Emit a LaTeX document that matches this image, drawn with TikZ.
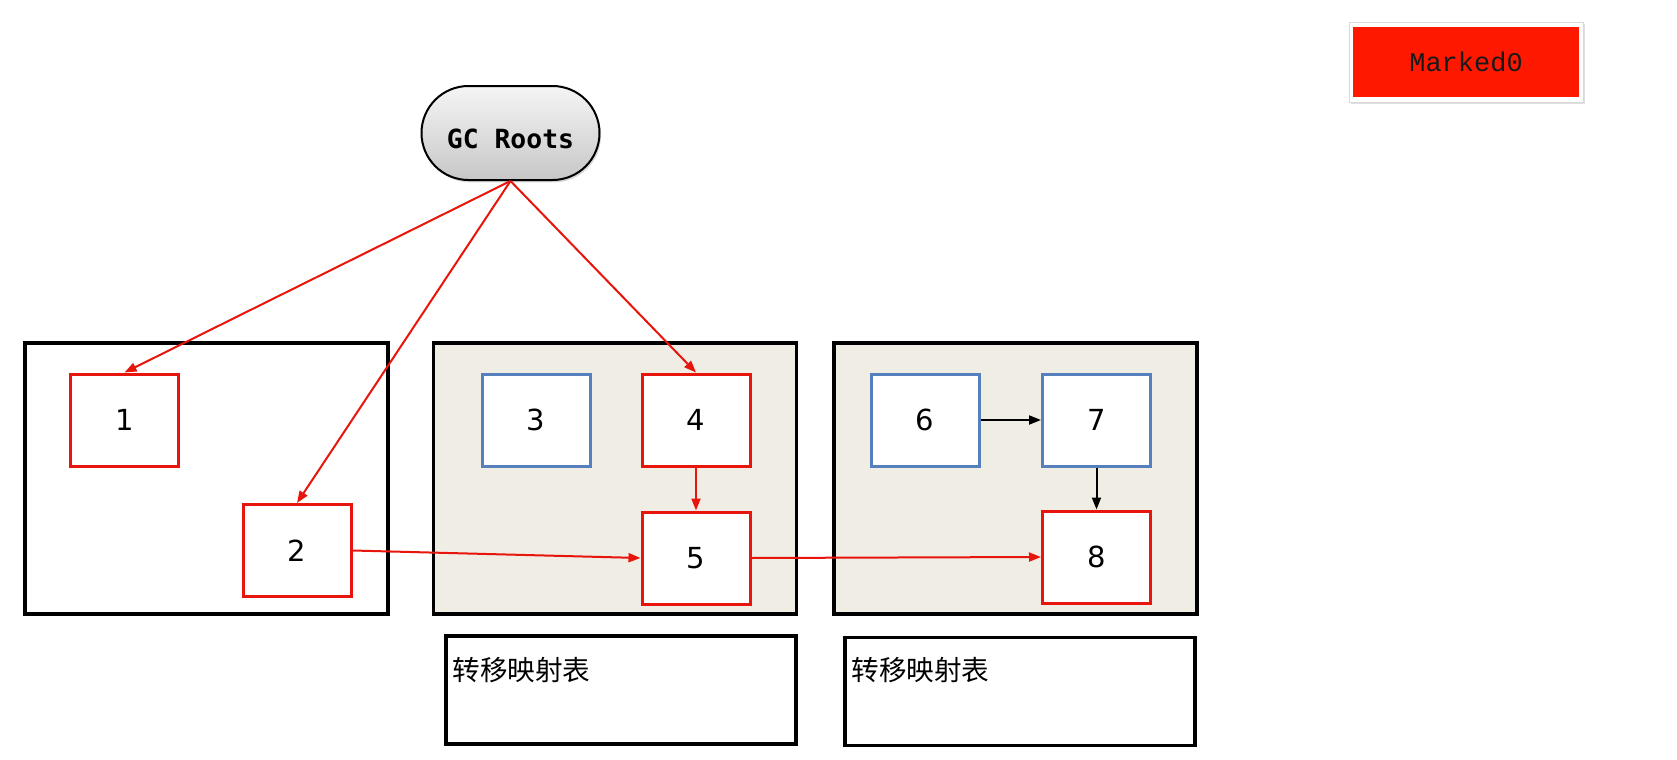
\documentclass[tikz,border=0pt]{standalone}
\usepackage{fontspec}
\setmainfont{DejaVu Sans}
\newfontfamily\cjk{Noto Sans CJK SC}
\newfontfamily\gcfont{DejaVu Sans Mono}
\newfontfamily\markfont{Liberation Mono}
\usetikzlibrary{arrows.meta,shadows,shapes.misc}
\definecolor{objred}{HTML}{E8150C}
\definecolor{objblue}{HTML}{5580BC}
\definecolor{regionbg}{HTML}{F0EDE4}
\definecolor{markred}{HTML}{FF1800}
\tikzset{
  region/.style={draw=black, line width=1.8pt, minimum width=181.5pt, minimum height=135.5pt, inner sep=0pt},
  obj/.style={draw, fill=white, line width=1.5pt, minimum width=54pt, minimum height=46pt, inner sep=0pt, font=\fontsize{14.5}{16}\selectfont},
  live/.style={obj, draw=objred},
  dead/.style={obj, draw=objblue},
  table/.style={draw=black, line width=1.6pt, minimum width=175pt, minimum height=54pt, inner sep=0pt},
  redarrow/.style={draw=objred, line width=1pt, -{Triangle[length=6pt,width=4.5pt]}},
  blackarrow/.style={draw=black, line width=1pt, -{Triangle[length=6pt,width=4.5pt]}},
}
\begin{document}
\begin{tikzpicture}[x=0.5pt,y=-0.5pt]
\useasboundingbox[fill=white] (0,0) rectangle (1677,760);
% marked0 legend
\node[draw=black!15, fill=white, line width=0.4pt, minimum width=117pt, minimum height=40pt, drop shadow={shadow xshift=0.8pt, shadow yshift=-1.2pt, opacity=0.25}] (mframe) at (1466,62) {};
\node[fill=markred, minimum width=113pt, minimum height=35pt, inner sep=0pt, font=\markfont\fontsize{13.5}{15}\selectfont, text=black!90] (marked) at (1466,62) {Marked0};
% GC roots
\node[rounded rectangle, draw=black, line width=1pt, top color=white!96!black, bottom color=black!22, minimum width=95pt, minimum height=47pt, inner xsep=3pt, text height=15pt, text depth=0pt, font=\gcfont\bfseries\fontsize{13.2}{14}\selectfont, drop shadow={shadow xshift=0.8pt, shadow yshift=-1.2pt, opacity=0.3}] (gc) at (510.5,133) {GC Roots};
% regions
\node[region, fill=white] (r1) at (206.5,478.5) {};
\node[region, fill=regionbg] (r2) at (615,478.5) {};
\node[region, fill=regionbg] (r3) at (1015.5,478.5) {};
% objects
\node[live] (n1) at (124.5,420) {1};
\node[live] (n2) at (297,550.5) {2};
\node[dead] (n3) at (536,420) {3};
\node[live] (n4) at (696,420) {4};
\node[live] (n5) at (696,558) {5};
\node[dead] (n6) at (925,420) {6};
\node[dead] (n7) at (1096.5,420) {7};
\node[live] (n8) at (1096.5,557) {8};
% forwarding tables
\node[table] (t1) at (621,690) {};
\node[table] (t2) at (1020,691.5) {};
\node[anchor=west, font=\cjk\fontsize{13.8}{15}\selectfont, inner sep=0pt] (t1l) at (452,670) {转移映射表};
\node[anchor=west, font=\cjk\fontsize{13.8}{15}\selectfont, inner sep=0pt] (t2l) at (851,670) {转移映射表};
% references
\draw[redarrow] (gc.south) -- (n1.north);
\draw[redarrow] (gc.south) -- (n2.north);
\draw[redarrow] (gc.south) -- (n4.north);
\draw[redarrow] (n4.south) -- (n5.north);
\draw[redarrow] (n2.east) -- (n5.west);
\draw[redarrow] (n5.east) -- (n8.west);
\draw[blackarrow] (n6.east) -- (n7.west);
\draw[blackarrow] (n7.south) -- (n8.north);
\end{tikzpicture}
\end{document}
